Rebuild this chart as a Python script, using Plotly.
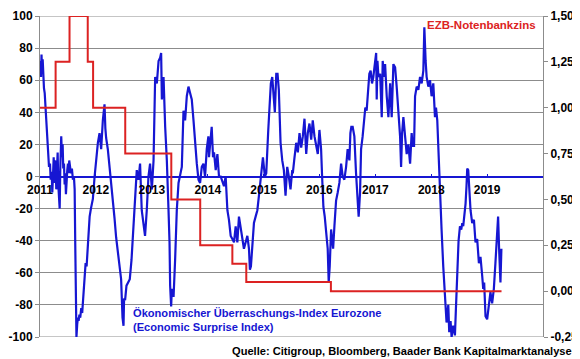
import pandas as pd
import plotly.graph_objects as go

# Economic Surprise Index (decimal year, index value)
esi_years = [
    2011.000, 2011.018, 2011.027, 2011.036, 2011.048, 2011.059, 2011.071, 2011.084, 2011.102, 2011.116,
    2011.130, 2011.143, 2011.161, 2011.179, 2011.191, 2011.209, 2011.220, 2011.232, 2011.245, 2011.255,
    2011.268, 2011.280, 2011.291, 2011.304, 2011.316, 2011.327, 2011.339, 2011.352, 2011.363, 2011.380,
    2011.393, 2011.405, 2011.416, 2011.429, 2011.441, 2011.452, 2011.464, 2011.477, 2011.488, 2011.500,
    2011.513, 2011.523, 2011.536, 2011.554, 2011.571, 2011.589, 2011.607, 2011.620, 2011.630, 2011.643,
    2011.652, 2011.666, 2011.679, 2011.691, 2011.705, 2011.720, 2011.738, 2011.755, 2011.768, 2011.786,
    2011.798, 2011.816, 2011.834, 2011.857, 2011.875, 2011.888, 2011.911, 2011.946, 2011.977, 2012.005,
    2012.036, 2012.066, 2012.095, 2012.125, 2012.155, 2012.170, 2012.184, 2012.214, 2012.245, 2012.273,
    2012.304, 2012.334, 2012.363, 2012.393, 2012.423, 2012.452, 2012.477, 2012.495, 2012.505, 2012.523,
    2012.548, 2012.584, 2012.607, 2012.638, 2012.673, 2012.702, 2012.732, 2012.763, 2012.791, 2012.821,
    2012.852, 2012.880, 2012.911, 2012.941, 2012.970, 2013.000, 2013.030, 2013.045, 2013.059, 2013.089,
    2013.120, 2013.148, 2013.166, 2013.179, 2013.209, 2013.238, 2013.268, 2013.298, 2013.316, 2013.327,
    2013.345, 2013.357, 2013.388, 2013.416, 2013.446, 2013.477, 2013.505, 2013.536, 2013.566, 2013.595,
    2013.625, 2013.655, 2013.684, 2013.714, 2013.745, 2013.773, 2013.804, 2013.834, 2013.863, 2013.893,
    2013.923, 2013.952, 2013.982, 2014.012, 2014.023, 2014.071, 2014.095, 2014.113, 2014.143, 2014.173,
    2014.202, 2014.232, 2014.263, 2014.291, 2014.321, 2014.334, 2014.352, 2014.380, 2014.411, 2014.441,
    2014.470, 2014.500, 2014.530, 2014.559, 2014.589, 2014.620, 2014.648, 2014.679, 2014.709, 2014.738,
    2014.755, 2014.773, 2014.798, 2014.827, 2014.857, 2014.888, 2014.916, 2014.946, 2014.977, 2014.988,
    2015.023, 2015.048, 2015.084, 2015.107, 2015.130, 2015.155, 2015.184, 2015.202, 2015.227, 2015.250,
    2015.273, 2015.304, 2015.334, 2015.363, 2015.393, 2015.423, 2015.452, 2015.482, 2015.513, 2015.523,
    2015.554, 2015.584, 2015.613, 2015.643, 2015.673, 2015.702, 2015.732, 2015.763, 2015.791, 2015.821,
    2015.852, 2015.880, 2015.911, 2015.941, 2015.970, 2016.000, 2016.030, 2016.048, 2016.071, 2016.095,
    2016.120, 2016.148, 2016.166, 2016.184, 2016.209, 2016.227, 2016.245, 2016.268, 2016.298, 2016.327,
    2016.357, 2016.388, 2016.416, 2016.446, 2016.477, 2016.505, 2016.536, 2016.554, 2016.571, 2016.595,
    2016.625, 2016.655, 2016.684, 2016.702, 2016.727, 2016.745, 2016.773, 2016.804, 2016.821, 2016.845,
    2016.870, 2016.893, 2016.916, 2016.941, 2016.964, 2016.988, 2017.013, 2017.023, 2017.036, 2017.054,
    2017.084, 2017.113, 2017.130, 2017.155, 2017.173, 2017.202, 2017.232, 2017.263, 2017.291, 2017.321,
    2017.352, 2017.380, 2017.411, 2017.441, 2017.459, 2017.477, 2017.500, 2017.530, 2017.559, 2017.589,
    2017.620, 2017.648, 2017.666, 2017.691, 2017.709, 2017.738, 2017.768, 2017.798, 2017.827, 2017.857,
    2017.875, 2017.898, 2017.916, 2017.946, 2017.977, 2018.005, 2018.036, 2018.066, 2018.084, 2018.107,
    2018.125, 2018.143, 2018.166, 2018.184, 2018.214, 2018.245, 2018.273, 2018.304, 2018.321, 2018.345,
    2018.363, 2018.393, 2018.423, 2018.441, 2018.464, 2018.488, 2018.513, 2018.536, 2018.554, 2018.571,
    2018.589, 2018.613, 2018.630, 2018.643, 2018.661, 2018.679, 2018.702, 2018.732, 2018.763, 2018.791,
    2018.821, 2018.852, 2018.880, 2018.911, 2018.929, 2018.946, 2018.970, 2019.000, 2019.030, 2019.059,
    2019.089, 2019.120, 2019.148, 2019.179, 2019.196, 2019.214, 2019.238, 2019.255,
]
esi_values = [
    72, 62, 76, 66, 73, 60, 55, 52, 40, 32,
    20, 14, 6, 8, -2, 3, -10, 0, 12, -4,
    10, 8, -8, 5, 15, -5, -12, -20, 5, 25,
    12, 20, 5, 8, -5, 2, -11, 0, 4, 8,
    2, 10, 6, 2, 5, -2, 0, -8, -40, -75,
    -100, -92, -88, -90, -86, -88, -82, -85, -78, -64,
    -60, -54, -56, -41, -35, -25, -20, -14, 0, 10,
    21, 27, 17, 35, 45, 30, 24, 17, 6, 0,
    -15, -26, -38, -47, -56, -64, -88, -93, -76, -77,
    -68, -66, -64, -52, -30, -12, 4, -2, 8, -21,
    -28, -37, -21, 0, 8, -8, 10, 35, 62, 58,
    72, 74, 77, 48, 62, 31, 10, -21, -41, -68,
    -81, -70, -75, -52, -21, -4, 2, 6, 41, 35,
    50, 56, 52, 48, 35, 21, 8, -2, -4, 6,
    8, 0, 17, 25, 12, 31, 12, 15, 4, 14,
    0, 0, -4, -6, 0, -12, -21, -27, -37, -39,
    -41, -31, -41, -25, -31, -39, -45, -41, -37, -45,
    -58, -56, -41, -29, -25, -21, -12, 0, 8, 12,
    0, 2, 29, 45, 58, 62, 48, 40, 64, 64,
    54, 21, 10, 4, -12, 6, 0, -8, 4, 2,
    12, 21, 15, 27, 18, 25, 36, 14, 27, 33,
    23, 35, 25, 18, 14, 29, 17, 0, -19, -25,
    -33, -45, -66, -56, -33, -41, -45, -31, -15, -10,
    -4, 8, 0, -2, 6, 17, 10, 27, 31, 31,
    25, 2, -17, -25, -10, 17, 25, 35, 43, 41,
    52, 64, 66, 58, 62, 68, 77, 48, 72, 62,
    64, 37, 72, 62, 70, 50, 37, 58, 37, 70,
    68, 56, 40, 25, 6, 27, 37, 27, 14, 20,
    8, 27, 19, 19, 50, 56, 54, 62, 58, 66,
    93, 72, 62, 56, 60, 50, 58, 37, 43, 35,
    17, 0, -21, -33, -56, -76, -91, -80, -97, -90,
    -100, -93, -99, -82, -55, -40, -31, -33, -29, -31,
    -25, -17, -6, 5, 4, -6, -21, -29, -27, -41,
    -39, -54, -50, -62, -70, -66, -87, -89, -79, -72,
    -79, -70, -54, -37, -25, -45, -66, -45,
]

# ECB main refinancing rate (step dates, rate in %)
ecb_dates = ["2011-01-01", "2011-04-13", "2011-07-13", "2011-11-09", "2011-12-14",
             "2012-07-11", "2013-05-08", "2013-11-13", "2014-06-11", "2014-09-10",
             "2016-03-16", "2019-04-05"]
ecb_rates = [1.00, 1.25, 1.50, 1.25, 1.00, 0.75, 0.50, 0.25, 0.15, 0.05, 0.00, 0.00]

left_ticks = [-100, -80, -60, -40, -20, 0, 20, 40, 60, 80, 100]
left_labels = ["-100", "-80", "-60", "-40", "-20", "0", "20", "40", "60", "80", "100"]
right_ticks = [-0.25, 0.0, 0.25, 0.5, 0.75, 1.0, 1.25, 1.5]
right_labels = ["-0,25", "0,00", "0,25", "0,50", "0,75", "1,00", "1,25", "1,50"]
year_ticks = ["2011-01-01", "2012-01-01", "2013-01-01", "2014-01-01", "2015-01-01",
              "2016-01-01", "2017-01-01", "2018-01-01", "2019-01-01"]
year_labels = ["2011", "2012", "2013", "2014", "2015", "2016", "2017", "2018", "2019"]


def dec_to_date(y):
    yr = int(y)
    return pd.Timestamp(yr, 1, 1) + pd.Timedelta(days=(y - yr) * 365.25)


esi_dates = [dec_to_date(y) for y in esi_years]

BLUE = "#1616D2"
RED = "#DC2222"
GRID = "#8C8C8C"
FONT = "Liberation Sans, Arial, sans-serif"

fig = go.Figure()
fig.add_trace(go.Scatter(x=esi_dates, y=esi_values, mode="lines",
                         line=dict(color=BLUE, width=2.2), yaxis="y", showlegend=False))
fig.add_trace(go.Scatter(x=ecb_dates, y=ecb_rates, mode="lines", line_shape="hv",
                         line=dict(color=RED, width=2), yaxis="y2", showlegend=False))

# the page body adds an 8px offset, so the figure is 8px smaller on each side
fig.update_layout(
    width=572, height=351,
    margin=dict(l=32, r=37, t=8, b=22, autoexpand=False),
    paper_bgcolor="white", plot_bgcolor="white",
    showlegend=False,
    font=dict(family=FONT, color="black", size=12),
    xaxis=dict(
        type="date", range=["2011-01-01", "2020-01-01"], domain=[0, 1],
        tickvals=year_ticks, ticktext=year_labels, automargin=False,
        tickfont=dict(family=FONT, size=12, weight="bold", color="black"),
        anchor="free", position=0.5, showline=False, showgrid=False, zeroline=False,
        ticks="inside", ticklen=3, tickcolor=BLUE, tickwidth=1, ticklabelstandoff=4,
    ),
    yaxis=dict(
        range=[-100, 100], domain=[0, 1], tickvals=left_ticks, ticktext=left_labels,
        automargin=False,
        tickfont=dict(family=FONT, size=12, weight="bold", color="black"),
        showgrid=True, gridcolor=GRID, gridwidth=1,
        zeroline=True, zerolinecolor=BLUE, zerolinewidth=2,
        showline=True, linecolor=GRID, linewidth=1,
        ticks="outside", ticklen=4, tickcolor=GRID,
    ),
    yaxis2=dict(
        range=[-0.25, 1.5], tickvals=right_ticks, ticktext=right_labels,
        automargin=False,
        tickfont=dict(family=FONT, size=12, weight="bold", color="black"),
        overlaying="y", side="right", showgrid=False, zeroline=False,
        showline=True, linecolor=GRID, linewidth=1,
        ticks="outside", ticklen=4, tickcolor=GRID,
    ),
    shapes=[
        dict(type="line", xref="paper", yref="y", x0=0, x1=1, y0=-100, y1=-100,
             line=dict(color=GRID, width=1), layer="below"),
        dict(type="line", xref="paper", yref="y", x0=0, x1=1, y0=100, y1=100,
             line=dict(color=GRID, width=1), layer="below"),
    ],
    annotations=[
        dict(text="EZB-Notenbankzins", xref="paper", yref="paper", x=0.99, y=0.9735,
             xanchor="right", yanchor="middle", showarrow=False,
             font=dict(family=FONT, size=11.5, weight="bold", color=RED)),
        dict(text="Ökonomischer Überraschungs-Index Eurozone<br>(Economic Surprise Index)",
             xref="paper", yref="paper", x=0.181, y=0.053, align="left",
             xanchor="left", yanchor="middle", showarrow=False,
             font=dict(family=FONT, size=11.1, weight="bold", color=BLUE)),
        dict(text="Quelle: Citigroup, Bloomberg, Baader Bank Kapitalmarktanalyse",
             xref="paper", yref="paper", x=1.062, y=-0.0436,
             xanchor="right", yanchor="middle", showarrow=False,
             font=dict(family=FONT, size=11.1, weight="bold", color="black")),
    ],
)

fig.write_html("out.html")
